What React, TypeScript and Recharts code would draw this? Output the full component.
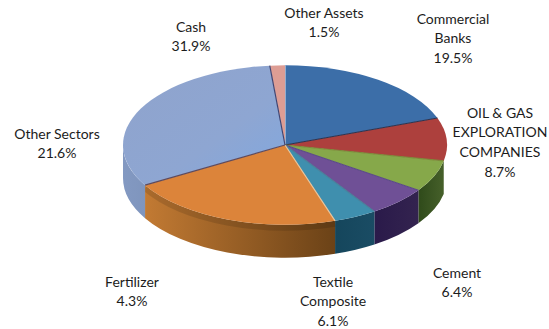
import { PieChart, Pie } from "recharts";

const categories = [
  ["Commercial", "Banks"],
  ["OIL & GAS", "EXPLORATION", "COMPANIES"],
  ["Cement"],
  ["Textile", "Composite"],
  ["Fertilizer"],
  ["Other Sectors"],
  ["Cash"],
  ["Other Assets"],
];
const shares = [19.5, 8.7, 6.4, 6.1, 4.3, 21.6, 31.9, 1.5];
const topColors = ["#3c6ea8", "#ad403d", "#86a84a", "#6f5096", "#3f8fae", "#dc843a", "url(#cash-top)", "#dd9d94"];
// rim colours, left as null where the rim stays out of view
const wallStops = [
  null,
  null,
  ["#2f4a1a", "#46602a"],
  ["#2a1a4a", "#33234f"],
  ["#15465c", "#1a4c64"],
  ["#c27a33", "#6b4217"],
  ["#8399c2", "#7f95bd"],
  null,
];
// line along the leading radius of each slice
const edgeColors = ["#cfd9ea", "#2b3350", "#7d8a3a", "#5a4a86", "#4a7f9a", "#e8c39a", "#5f4a5c", "#3f4674"];
const SHADED_RIM = 5;

// label centres, one entry per slice
const labelX = [453, 500, 457, 333, 132, 57, 191, 324];
const labelY = [20, 114, 274, 283, 283, 135, 28, 14];
const LINE_HEIGHT = 19.8;

const data = categories.map((lines, i) => ({
  name: lines.join(" "),
  value: shares[i],
  fill: topColors[i],
  index: i,
}));

const TILT = 0.492;
const DEPTH = 33;

const at = (cx: number, cy: number, rx: number, deg: number) => {
  const rad = (deg * Math.PI) / 180;
  return [cx + rx * Math.cos(rad), cy - rx * TILT * Math.sin(rad)];
};

// flattened wedge for the top of the disc
const TopFace = (props: any) => {
  const { cx, cy, outerRadius: r, startAngle, endAngle, fill, payload } = props;
  const [x0, y0] = at(cx, cy, r, startAngle);
  const [x1, y1] = at(cx, cy, r, endAngle);
  const large = Math.abs(startAngle - endAngle) > 180 ? 1 : 0;
  const d = `M${cx},${cy}L${x0},${y0}A${r},${r * TILT} 0 ${large} 1 ${x1},${y1}Z`;
  const index = payload?.index ?? props.index;
  return (
    <g>
      <path d={d} fill={fill} />
      <path d={`M${cx},${cy}L${x0},${y0}`} stroke={edgeColors[index]} strokeWidth={1.2} fill="none" />
    </g>
  );
};

// side wall, only the part of the rim facing the viewer
const Wall = (props: any) => {
  const { cx, cy, outerRadius: r, startAngle, endAngle, payload } = props;
  const index = payload?.index ?? props.index;
  const a = Math.min(startAngle, 0);
  const b = Math.max(endAngle, -180);
  if (a <= b || !wallStops[index]) return <g />;
  const [x0, y0] = at(cx, cy, r, a);
  const [x1, y1] = at(cx, cy, r, b);
  const ry = r * TILT;
  const d =
    `M${x0},${y0}A${r},${ry} 0 0 1 ${x1},${y1}` +
    `L${x1},${y1 + DEPTH}A${r},${ry} 0 0 0 ${x0},${y0 + DEPTH}Z`;
  return (
    <g>
      <path d={d} fill={`url(#wall-${index})`} />
      {/* darker band just under the top edge */}
      {index === SHADED_RIM && (
        <path
          d={`M${x0},${y0 + 3}A${r},${ry} 0 0 1 ${x1},${y1 + 3}`}
          fill="none"
          stroke="#000"
          strokeOpacity={0.12}
          strokeWidth={6}
        />
      )}
    </g>
  );
};

const renderLabel = (props: any) => {
  const i = props.index;
  const lines = [...categories[i], `${shares[i]}%`];
  return (
    <text
      x={labelX[i]}
      y={labelY[i]}
      textAnchor="middle"
      fontFamily="Lato, sans-serif"
      fontSize={14}
      fill="#1c1c1c"
    >
      {lines.map((line, n) => (
        <tspan key={n} x={labelX[i]} y={labelY[i] + n * LINE_HEIGHT} dominantBaseline="middle">
          {line}
        </tspan>
      ))}
    </text>
  );
};

export default function App() {
  return (
    <div style={{ position: "absolute", left: 0, top: 0, width: 549, height: 329, background: "#fff" }}>
      <PieChart width={549} height={329} margin={{ top: 0, right: 0, bottom: 0, left: 0 }}>
        <defs>
          {wallStops.map((stops, i) =>
            stops ? (
              <linearGradient key={i} id={`wall-${i}`} x1="0" y1="0" x2="1" y2="0">
                <stop offset="0%" stopColor={stops[0]} />
                <stop offset="100%" stopColor={stops[1]} />
              </linearGradient>
            ) : null
          )}
          <linearGradient id="cash-top" x1="0" y1="0" x2="1" y2="1">
            <stop offset="0%" stopColor="#8fa3cc" />
            <stop offset="60%" stopColor="#8ea6d2" />
            <stop offset="100%" stopColor="#80a8e0" />
          </linearGradient>
        </defs>
        <Pie
          data={data}
          dataKey="value"
          cx={285}
          cy={145}
          outerRadius={162}
          startAngle={90}
          endAngle={-270}
          stroke="none"
          shape={Wall}
          label={false}
          isAnimationActive={false}
        />
        <Pie
          data={data}
          dataKey="value"
          cx={285}
          cy={145}
          outerRadius={162}
          startAngle={90}
          endAngle={-270}
          shape={TopFace}
          label={renderLabel}
          labelLine={false}
          isAnimationActive={false}
        />
      </PieChart>
    </div>
  );
}
